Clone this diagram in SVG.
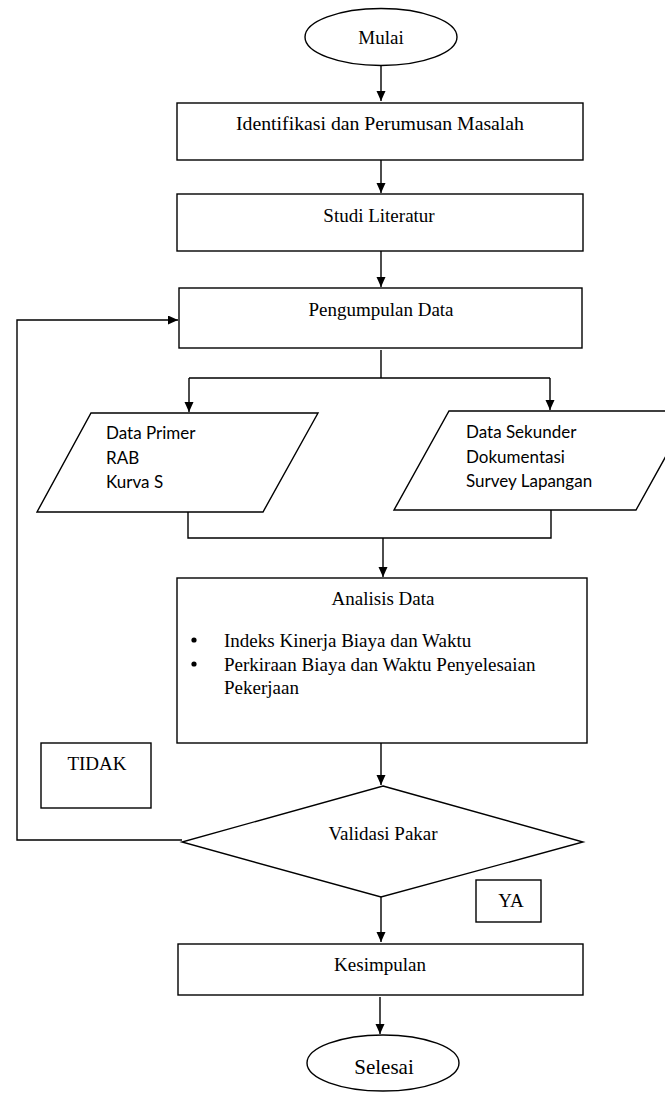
<svg xmlns="http://www.w3.org/2000/svg" width="665" height="1095" viewBox="0 0 665 1095">
<style>
.s{fill:#fff;stroke:#000;stroke-width:1.4}
.c{fill:none;stroke:#000;stroke-width:1.4}
.t{font-family:"Liberation Serif","Times New Roman",serif;font-size:19px;fill:#000;text-anchor:middle}
.l{font-family:"Liberation Serif","Times New Roman",serif;font-size:19px;fill:#000}
.n{font-family:Lato,"Liberation Sans",sans-serif;font-size:17px;fill:#000}
</style>
<defs>
<marker id="a" markerUnits="userSpaceOnUse" markerWidth="10" markerHeight="10" refX="10" refY="4.5" orient="auto">
<path d="M0,0 L10,4.5 L0,9 z" fill="#000"/>
</marker>
</defs>
<rect width="665" height="1095" fill="#fff"/>
<g id="connectors">
<path class="c" d="M381,65 V101" marker-end="url(#a)"/>
<path class="c" d="M381,160 V193" marker-end="url(#a)"/>
<path class="c" d="M381,251 V287" marker-end="url(#a)"/>
<path class="c" d="M381,350 V378 M189,378 H550"/>
<path class="c" d="M189,378 V412" marker-end="url(#a)"/>
<path class="c" d="M550,378 V410" marker-end="url(#a)"/>
<path class="c" d="M188,512 V538 H551 V510"/>
<path class="c" d="M383,538 V577" marker-end="url(#a)"/>
<path class="c" d="M381,743 V785" marker-end="url(#a)"/>
<path class="c" d="M182,840 H17 V320 H178" marker-end="url(#a)"/>
<path class="c" d="M381,897 V942" marker-end="url(#a)"/>
<path class="c" d="M380,997 V1034" marker-end="url(#a)"/>
</g>
<g id="mulai">
<ellipse class="s" cx="381" cy="37" rx="76" ry="28.5"/>
<text class="t" x="381" y="43.5">Mulai</text>
</g>
<g id="identifikasi">
<rect class="s" x="177" y="103" width="406" height="57"/>
<text class="t" x="380" y="129.5" textLength="288" lengthAdjust="spacingAndGlyphs">Identifikasi dan Perumusan Masalah</text>
</g>
<g id="studi">
<rect class="s" x="177" y="194" width="406" height="57"/>
<text class="t" x="379" y="221.5">Studi Literatur</text>
</g>
<g id="pengumpulan">
<rect class="s" x="179" y="288" width="403" height="60"/>
<text class="t" x="381" y="315.5">Pengumpulan Data</text>
</g>
<g id="primer">
<polygon class="s" points="91,413 318,413 263,512 37,512"/>
<text class="n" x="106" y="439">Data Primer</text>
<text class="n" x="106" y="464">RAB</text>
<text class="n" x="106" y="488">Kurva S</text>
</g>
<g id="sekunder">
<polygon class="s" points="449,411 691,411 636,510 394,510"/>
<text class="n" x="466" y="438">Data Sekunder</text>
<text class="n" x="466" y="463">Dokumentasi</text>
<text class="n" x="466" y="487">Survey Lapangan</text>
</g>
<g id="analisis">
<rect class="s" x="177" y="578" width="410" height="165"/>
<text class="t" x="383" y="604.5">Analisis Data</text>
<circle cx="194" cy="640" r="2.6" fill="#000"/>
<circle cx="194" cy="664" r="2.6" fill="#000"/>
<text class="l" x="224" y="646.5">Indeks Kinerja Biaya dan Waktu</text>
<text class="l" x="224" y="670.5">Perkiraan Biaya dan Waktu Penyelesaian</text>
<text class="l" x="224" y="693.5">Pekerjaan</text>
</g>
<g id="tidak">
<rect class="s" x="41" y="743" width="110" height="65"/>
<text class="t" x="97" y="769.5">TIDAK</text>
</g>
<g id="validasi">
<polygon class="s" points="383,786 583,842 381,897 182,842"/>
<text class="t" x="383" y="839.5">Validasi  Pakar</text>
</g>
<g id="ya">
<rect class="s" x="476" y="880" width="65" height="42"/>
<text class="t" x="511" y="906.5">YA</text>
</g>
<g id="kesimpulan">
<rect class="s" x="178" y="944" width="405" height="51"/>
<text class="t" x="380" y="970.5">Kesimpulan</text>
</g>
<g id="selesai">
<ellipse class="s" cx="383" cy="1063" rx="76" ry="28"/>
<text class="t" x="384" y="1074" style="font-size:21px">Selesai</text>
</g>
</svg>
